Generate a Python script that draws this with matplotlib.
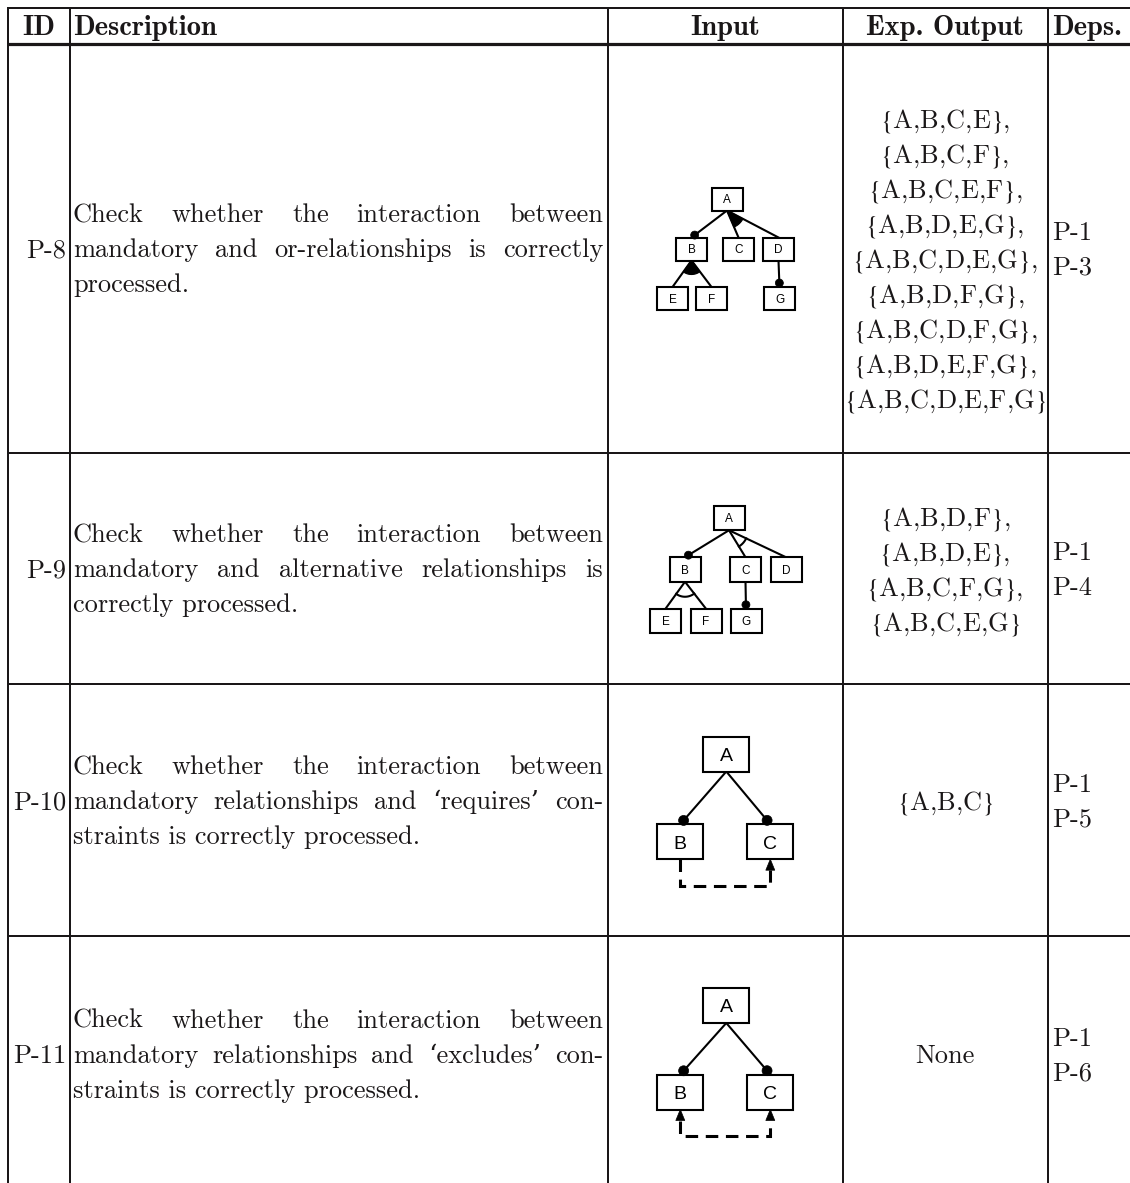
import matplotlib
matplotlib.use("Agg")
import matplotlib.pyplot as plt
from matplotlib.patches import Rectangle, Circle, Polygon
import numpy as np

plt.rcParams['mathtext.fontset'] = 'stix'
plt.rcParams['lines.scale_dashes'] = False
plt.rcParams['axes.formatter.use_mathtext'] = True

# ---------------- data ----------------
headers = ["ID", "Description", "Input", "Exp. Output", "Deps."]
ids = ["P-8", "P-9", "P-10", "P-11"]
descriptions = [
    ["Check whether the interaction between",
     "mandatory and or-relationships is correctly",
     "processed."],
    ["Check whether the interaction between",
     "mandatory and alternative relationships is",
     "correctly processed."],
    ["Check whether the interaction between",
     "mandatory relationships and \u2018requires\u2019 con-",
     "straints is correctly processed."],
    ["Check whether the interaction between",
     "mandatory relationships and \u2018excludes\u2019 con-",
     "straints is correctly processed."],
]
outputs = [
    ["A,B,C,E", "A,B,C,F", "A,B,C,E,F", "A,B,D,E,G", "A,B,C,D,E,G",
     "A,B,D,F,G", "A,B,C,D,F,G", "A,B,D,E,F,G", "A,B,C,D,E,F,G"],
    ["A,B,D,F", "A,B,D,E", "A,B,C,F,G", "A,B,C,E,G"],
    ["A,B,C"],
    [],
]
empty_output = "None"
deps = [["P-1", "P-3"], ["P-1", "P-4"], ["P-1", "P-5"], ["P-1", "P-6"]]

features = [list("ABCDEFG"), list("ABCDEFG"), list("ABC"), list("ABC")]
relations = [
    [("mandatory", "A", ["B"]), ("or", "A", ["C", "D"]),
     ("or", "B", ["E", "F"]), ("mandatory", "D", ["G"])],
    [("mandatory", "A", ["B"]), ("alternative", "A", ["C", "D"]),
     ("alternative", "B", ["E", "F"]), ("mandatory", "C", ["G"])],
    [("mandatory", "A", ["B"]), ("mandatory", "A", ["C"]), ("requires", "B", ["C"])],
    [("mandatory", "A", ["B"]), ("mandatory", "A", ["C"]), ("excludes", "B", ["C"])],
]

# ---------------- layout (pixels) ----------------
W, H = 1130, 1183
col_x = [8, 69.5, 608, 842.5, 1048]
top_y, head_y = 7.5, 43.5
row_lines = [452.5, 684, 936]
text_center = [248, 568, 800, 1054]
out_center = [258, 569, 800, 1054]
LS = 35
BASE = 9.0
FS = 19.0
FSB = 20.5
INK = '#1a1718'
serif = ['cmr10', 'DejaVu Serif']
bold = ['cmb10', 'DejaVu Serif']

node_pos = [
    {"A": (727, 199), "B": (691.5, 249), "C": (738.5, 249), "D": (778.5, 249),
     "E": (672.5, 298.5), "F": (711.5, 298.5), "G": (779.5, 298.5)},
    {"A": (729, 518), "B": (685, 569.5), "C": (745.5, 569.5), "D": (786, 569.5),
     "E": (665.5, 621), "F": (706, 621), "G": (746, 621)},
    {"A": (726.3, 754), "B": (680.3, 841.7), "C": (770.3, 841.7)},
    {"A": (726.3, 1005.5), "B": (680.3, 1092), "C": (770.3, 1092)},
]
box_size = [(31, 23), (31, 24.5), (46, 35), (46, 35)]
label_fs = [8.5, 8.5, 14, 14]
dot_r = [4, 4, 5, 5]
group_r = [{"A": 18, "B": 14}, {"A": 19, "B": 15}, {}, {}]
cons_y = [None, None, 886, 1136]

fig = plt.figure(figsize=(W / 100, H / 100), dpi=100)
ax = fig.add_axes([0, 0, 1, 1])
ax.set_xlim(0, W)
ax.set_ylim(H, 0)
ax.axis('off')
renderer = fig.canvas.get_renderer()


def width(t):
    return t.get_window_extent(renderer=renderer).width


def justified(line, x0, x1, y, **kw):
    words = line.split(" ")
    ts = [ax.text(x0, y, w, ha='left', va='baseline', **kw) for w in words]
    ws = [width(t) for t in ts]
    gap = (x1 - x0 - sum(ws)) / (len(words) - 1)
    x = x0
    for t, w in zip(ts, ws):
        t.set_x(x)
        x += w + gap


# ---------------- table rules ----------------
lw_px = 2.0
ax.plot([col_x[0] - 1, W], [top_y, top_y], color=INK, lw=lw_px * 0.72, solid_capstyle='butt')
ax.plot([col_x[0] - 1, W], [head_y, head_y], color=INK, lw=3.2 * 0.72, solid_capstyle='butt')
for y in row_lines:
    ax.plot([col_x[0] - 1, W], [y, y], color=INK, lw=lw_px * 0.72, solid_capstyle='butt')
for x in col_x:
    ax.plot([x, x], [top_y - 1, H], color=INK, lw=lw_px * 0.72, solid_capstyle='butt')

# ---------------- header ----------------
hb = 25.5 + BASE
ax.text(39, hb, headers[0], ha='center', va='baseline', family=bold, fontsize=FSB, color=INK)
ax.text(73, hb, headers[1], ha='left', va='baseline', family=bold, fontsize=FSB, color=INK)
ax.text(725, hb, headers[2], ha='center', va='baseline', family=bold, fontsize=FSB, color=INK)
ax.text(945, hb, headers[3], ha='center', va='baseline', family=bold, fontsize=FSB, color=INK)
ax.text(1052, hb, headers[4], ha='left', va='baseline', family=bold, fontsize=FSB, color=INK)

# ---------------- rows ----------------
for i in range(4):
    c = text_center[i]
    ax.text(66, c + BASE, ids[i], ha='right', va='baseline', family=serif, fontsize=FS, color=INK)
    lines = descriptions[i]
    for k, line in enumerate(lines):
        y = c + (k - (len(lines) - 1) / 2) * LS + BASE
        if k < len(lines) - 1:
            justified(line, 73, 603, y, family=serif, fontsize=FS, color=INK)
        else:
            ax.text(73, y, line, ha='left', va='baseline', family=serif, fontsize=FS, color=INK)
    outs = outputs[i]
    oc = out_center[i]
    if outs:
        for k, s in enumerate(outs):
            y = oc + (k - (len(outs) - 1) / 2) * LS + BASE
            txt = r'$\{$' + s + r'$\}$' + (',' if k < len(outs) - 1 else '')
            ax.text(945, y, txt, ha='center', va='baseline', family=serif, fontsize=FS, color=INK)
    else:
        ax.text(945, oc + BASE, empty_output, ha='center', va='baseline', family=serif,
                fontsize=FS, color=INK)
    for k, d in enumerate(deps[i]):
        y = c + (k - 0.5) * LS + BASE
        ax.text(1052, y, d, ha='left', va='baseline', family=serif, fontsize=FS, color=INK)

# ---------------- feature diagrams ----------------
for i in range(4):
    pos = node_pos[i]
    bw, bh = box_size[i]
    elw = 1.5
    for f in features[i]:
        x, y = pos[f]
        ax.add_patch(Rectangle((x - bw / 2, y - bh / 2), bw, bh, fill=True, fc='white',
                               ec='black', lw=elw, zorder=3))
        cap = label_fs[i] / 72 * 100 * 0.716
        ax.text(x, y + cap / 2, f, ha='center', va='baseline', fontsize=label_fs[i],
                family=['Liberation Sans', 'DejaVu Sans'], color='black', zorder=4)
    for kind, p, kids in relations[i]:
        px, py = pos[p]
        start = (px, py + bh / 2)
        if kind in ("mandatory", "or", "alternative"):
            angs = []
            for kd in kids:
                kx, ky = pos[kd]
                end = (kx, ky - bh / 2)
                ax.plot([start[0], end[0]], [start[1], end[1]], color='black', lw=elw, zorder=2)
                v = np.array(end) - np.array(start)
                u = v / np.hypot(*v)
                angs.append(np.arctan2(v[1], v[0]))
                if kind == "mandatory":
                    r = dot_r[i]
                    cc = np.array(end) - u * r
                    ax.add_patch(Circle(cc, r, fc='black', ec='black', lw=0.5, zorder=3))
            if kind in ("or", "alternative"):
                R = group_r[i][p]
                th = np.linspace(min(angs), max(angs), 40)
                xs = start[0] + R * np.cos(th)
                ys = start[1] + R * np.sin(th)
                if kind == "or":
                    pts = np.vstack([[start], np.column_stack([xs, ys])])
                    ax.add_patch(Polygon(pts, closed=True, fc='black', ec='black', lw=0.8, zorder=2))
                else:
                    ax.plot(xs, ys, color='black', lw=elw, zorder=2)
        else:
            kx, ky = pos[kids[0]]
            yb = cons_y[i]
            ah, aw = 11, 4.5
            y0 = py + bh / 2
            y1 = ky + bh / 2
            sy = y0 + (ah if kind == "excludes" else 0)
            ax.plot([px, px, kx, kx], [sy, yb, yb, y1 + ah], color='black', lw=2.2,
                    dashes=(9, 5.5), dash_joinstyle='miter', solid_joinstyle='miter', zorder=2)
            ax.add_patch(Polygon([(kx, y1), (kx - aw, y1 + ah), (kx + aw, y1 + ah)],
                                 closed=True, fc='black', ec='black', lw=0.5, zorder=3))
            if kind == "excludes":
                ax.add_patch(Polygon([(px, y0), (px - aw, y0 + ah), (px + aw, y0 + ah)],
                                     closed=True, fc='black', ec='black', lw=0.5, zorder=3))

fig.savefig("out.png", dpi=100, facecolor='white')
